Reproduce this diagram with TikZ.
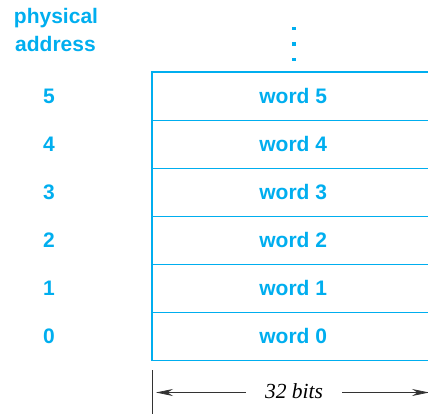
\documentclass[tikz,border=0pt]{standalone}
\usepackage{fontspec}
\setmainfont{Liberation Serif}
\setsansfont{Liberation Sans}
\usetikzlibrary{arrows.meta}
\definecolor{cy}{HTML}{00AEEF}
\definecolor{gr}{HTML}{333333}
\begin{document}
\begin{tikzpicture}[x=1pt,y=-1pt,
  lbl/.style={font=\sffamily\bfseries\fontsize{21}{22}\selectfont, text=cy, inner sep=0pt},
  cell/.style={minimum width=282pt, minimum height=48pt, inner sep=0pt, anchor=north west, font=\sffamily\bfseries\fontsize{21}{22}\selectfont, text=cy},
  cellline/.style={draw=cy, line width=1.5pt},
  dimarrow/.style={draw=gr, line width=0.7pt, -{Stealth[length=17pt,width=7pt]}},
  dotmark/.style={fill=cy, inner sep=0pt, minimum size=3.4pt, rectangle}]
\useasboundingbox (0,0) rectangle (428,414);
\foreach \i/\y in {5/72,4/120,3/168,2/216,1/264,0/312}{
  \node[cell] (w\i) at (152,\y) {word \i};
  \node[lbl] (a\i) at (49,\y+24) {\i};
}
\begin{scope}
\clip (0,0) rectangle (428,414);
\draw[cellline] (w5.north east) -- (w5.north west) -- (w0.south west) -- (w0.south east);
\foreach \i in {5,4,3,2,1}{
  \draw[cellline] (w\i.south west) -- (w\i.south east);
}
\end{scope}
\node[lbl] (phys) at (56,18) {physical};
\node[lbl] (addr) at (55.5,43.5) {address};
\node[dotmark] (d1) at (294,28.5) {};
\node[dotmark] (d2) at (294,44) {};
\node[dotmark] (d3) at (294,59.5) {};
\coordinate (tickt) at (152,370);
\coordinate (tickb) at (152,414);
\draw[gr, line width=0.8pt] (tickt) -- (tickb);
\node[font=\itshape\fontsize{21.5}{22}\selectfont, inner sep=0pt] (bits) at (294,391) {32 bits};
\coordinate (lend) at (156,392.5);
\coordinate (rend) at (429,392.5);
\draw[dimarrow] (bits.west |- lend) ++(-19,0) -- (lend);
\draw[dimarrow] (bits.east |- rend) ++(19,0) -- (rend);
\end{tikzpicture}
\end{document}
